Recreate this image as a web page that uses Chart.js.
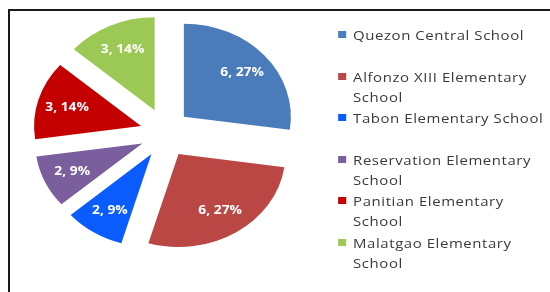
<!DOCTYPE html>
<html>
<head>
<meta charset="utf-8">
<script src="https://cdn.jsdelivr.net/npm/chart.js@4/dist/chart.umd.min.js"></script>
<style>
  html, body { margin: 0; padding: 0; background: #fff; }
  #wrap { position: relative; width: 550px; height: 292px; overflow: hidden; background: #fff; }
  #frame { position: absolute; left: 8px; top: 9px; width: 600px; height: 400px;
           border-left: 2px solid #1a1a1a; border-top: 2px solid #1a1a1a; box-sizing: border-box; }
  #chart { position: absolute; left: 0; top: 0; }
  #legend { position: absolute; left: 337px; top: 25px; width: 190px;
            transform: scaleX(1.15); transform-origin: 0 0;
            font-family: "Open Sans", sans-serif; font-size: 13px; color: #3a3a3a; }
  .item { position: relative; height: 41.6px; line-height: 20px; padding-left: 14px; white-space: nowrap; letter-spacing: 0.5px; }
  .sw { position: absolute; left: 1px; top: 6px; width: 7px; height: 7px; }
</style>
</head>
<body>
<div id="wrap">
  <canvas id="chart" width="550" height="292"></canvas>
  <div id="frame"></div>
  <div id="legend"></div>
</div>
<script>
const categories = [
  'Quezon Central School',
  'Alfonzo XIII Elementary School',
  'Tabon Elementary School',
  'Reservation Elementary School',
  'Panitian Elementary School',
  'Malatgao Elementary School'
];
const values = [6, 6, 2, 2, 3, 3];
const colors = ['#4A7BBA', '#BA4744', '#0A5CFF', '#7B5E9E', '#C40000', '#9CC956'];

const total = values.reduce((a, b) => a + b, 0);
const dataLabels = values.map(v => v + ', ' + Math.round(v / total * 100) + '%');

// HTML legend
const legend = document.getElementById('legend');
categories.forEach((name, i) => {
  const item = document.createElement('div');
  item.className = 'item';
  const sw = document.createElement('span');
  sw.className = 'sw';
  sw.style.background = colors[i];
  item.appendChild(sw);
  let text = name;
  if (name.length > 23) {
    const k = name.lastIndexOf(' ');
    text = name.slice(0, k) + '\n' + name.slice(k + 1);
  }
  text.split('\n').forEach((line, j) => {
    if (j) item.appendChild(document.createElement('br'));
    item.appendChild(document.createTextNode(line));
  });
  legend.appendChild(item);
});

const EXPLODE = 25;   // px each slice is pulled out
const STRETCH = 1.15; // horizontal stretch of the pie

function sliceShift(p) {
  const mid = (p.startAngle + p.endAngle) / 2;
  return { mid, dx: Math.cos(mid) * EXPLODE, dy: Math.sin(mid) * EXPLODE };
}

const explodePlugin = {
  id: 'explode',
  beforeDatasetDraw(chart, args) {
    const ctx = chart.ctx;
    args.meta.data.forEach(arc => {
      const p = arc.getProps(['x', 'y', 'startAngle', 'endAngle'], true);
      const s = sliceShift(p);
      ctx.save();
      ctx.translate(p.x + s.dx, p.y + s.dy);
      ctx.scale(STRETCH, 1);
      ctx.translate(-p.x, -p.y);
      arc.draw(ctx, chart.chartArea);
      ctx.restore();
    });
    return false;
  },
  afterDatasetsDraw(chart) {
    const ctx = chart.ctx;
    const meta = chart.getDatasetMeta(0);
    meta.data.forEach((arc, i) => {
      const p = arc.getProps(['x', 'y', 'startAngle', 'endAngle', 'outerRadius'], true);
      const s = sliceShift(p);
      const k = p.outerRadius * 0.72;
      ctx.save();
      ctx.translate(p.x + s.dx + Math.cos(s.mid) * k * STRETCH,
                    p.y + s.dy + Math.sin(s.mid) * k);
      ctx.scale(STRETCH, 1);
      ctx.fillStyle = '#ffffff';
      ctx.font = 'bold 12px "Open Sans", sans-serif';
      ctx.textAlign = 'center';
      ctx.textBaseline = 'middle';
      ctx.fillText(dataLabels[i], 0, 0);
      ctx.restore();
    });
  }
};

new Chart(document.getElementById('chart'), {
  type: 'pie',
  data: {
    labels: categories,
    datasets: [{
      data: values,
      backgroundColor: colors,
      borderWidth: 0,
      hoverOffset: 0,
      clip: false
    }]
  },
  options: {
    responsive: false,
    animation: false,
    events: [],
    layout: { padding: { left: 72, top: 40, right: 292, bottom: 66 } },
    plugins: {
      legend: { display: false },
      tooltip: { enabled: false },
      title: { display: false }
    }
  },
  plugins: [explodePlugin]
});
</script>
</body>
</html>
